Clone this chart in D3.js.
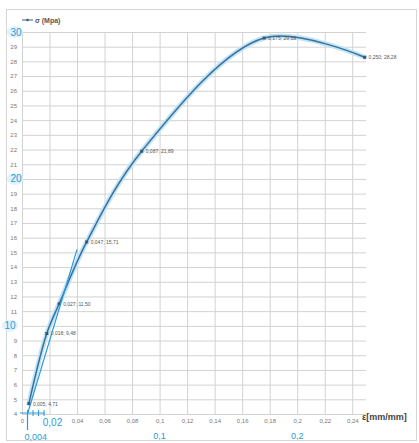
<!DOCTYPE html>
<html>
<head>
<meta charset="utf-8">
<script src="https://cdn.jsdelivr.net/npm/d3@7"></script>
<style>
  body { margin: 0; background: #fff; }
  svg { font-family: "Liberation Sans", Arial, sans-serif; }
</style>
</head>
<body>
<div id="chart"></div>
<script>
// Data
const strain = [0.005, 0.018, 0.027, 0.047, 0.087, 0.176, 0.249];
const stress = [4.71, 9.48, 11.50, 15.71, 21.89, 29.59, 28.28];
const pointLabels = ["0,005; 4,71", "0,018; 9,48", "0,027; 11,50", "0,047; 15,71",
                     "0,087; 21,89", "0,175; 29,59", "0,250; 28,28"];

const xTicks = [0, 0.02, 0.04, 0.06, 0.08, 0.1, 0.12, 0.14, 0.16, 0.18, 0.2, 0.22, 0.24];
const yTicks = d3.range(4, 31);

// hand-written blue notes
const noteY = [10, 20, 30];
const noteX = [0.02, 0.1, 0.2];
const tangentX = [0.004, 0.040];
const tangentY = [4.0, 15.2];
const smallTicks = [0.004, 0.008, 0.012, 0.016];

const W = 419, H = 443;
const svg = d3.select("#chart").append("svg")
    .attr("width", W)
    .attr("height", H);

svg.append("rect").attr("width", W).attr("height", H).attr("fill", "#fff");
svg.append("rect")
    .attr("x", 6.5).attr("y", 9.5)
    .attr("width", 410).attr("height", 431)
    .attr("fill", "none").attr("stroke", "#d6d6d6");

const x = d3.scaleLinear().domain([0, 0.25]).range([22, 366]);
const y = d3.scaleLinear().domain([4, 30]).range([414, 32]);

const fmt = d => String(d).replace(".", ",");

// gridlines + tick labels
const yAxis = svg.append("g")
    .attr("transform", `translate(${x(0)},0)`)
    .call(d3.axisLeft(y).tickValues(yTicks)
        .tickSize(-(x(0.25) - x(0))).tickPadding(5)
        .tickFormat(d => noteY.includes(d) ? "" : d));
yAxis.select(".domain").remove();
yAxis.selectAll("line").attr("stroke", "#d2d2d2");
yAxis.selectAll("text").attr("fill", "#777").style("font-size", "6px");

const xAxis = svg.append("g")
    .attr("transform", `translate(0,${y(4)})`)
    .call(d3.axisBottom(x).tickValues(xTicks)
        .tickSize(-(y(4) - y(30))).tickPadding(5)
        .tickFormat(d => d === 0.02 ? "" : fmt(d)));
xAxis.select(".domain").remove();
xAxis.selectAll("line").attr("stroke", "#d2d2d2");
xAxis.selectAll("text").attr("fill", "#777").style("font-size", "6px");

// legend
svg.append("line")
    .attr("x1", 22).attr("x2", 33).attr("y1", 20).attr("y2", 20)
    .attr("stroke", "#3a5f80").attr("stroke-width", 1);
svg.append("circle").attr("cx", 27.5).attr("cy", 20).attr("r", 1.3).attr("fill", "#3a5f80");
svg.append("text")
    .attr("x", 35).attr("y", 22.5)
    .attr("fill", "#555").style("font-size", "7px").style("font-weight", "bold")
    .text("σ (Mpa)");

// axis title
svg.append("text")
    .attr("x", 362).attr("y", 420)
    .attr("fill", "#444").style("font-size", "9px").style("font-weight", "bold")
    .text("ε[mm/mm]");

// the curve
const pts = strain.map((s, i) => [s, stress[i]]);
const line = d3.line()
    .x(d => x(d[0])).y(d => y(d[1]))
    .curve(d3.curveCatmullRom.alpha(0.5));

svg.append("path").attr("d", line(pts))
    .attr("fill", "none").attr("stroke", "#bfe4f6").attr("stroke-width", 5)
    .attr("stroke-linecap", "round");
svg.append("path").attr("d", line(pts))
    .attr("fill", "none").attr("stroke", "#3b6f9b").attr("stroke-width", 1.5);

svg.selectAll("rect.marker").data(pts).join("rect")
    .attr("class", "marker")
    .attr("x", d => x(d[0]) - 1.5).attr("y", d => y(d[1]) - 1.5)
    .attr("width", 3).attr("height", 3)
    .attr("fill", "#3b5670");

svg.selectAll("text.plabel").data(pts).join("text")
    .attr("class", "plabel")
    .attr("x", d => x(d[0]) + 4).attr("y", d => y(d[1]) + 2)
    .attr("fill", "#555").style("font-size", "5px")
    .text((d, i) => pointLabels[i]);

// blue notes
const blue = "#2b9bd6";
svg.append("line")
    .attr("x1", x(tangentX[0])).attr("y1", y(tangentY[0]))
    .attr("x2", x(tangentX[1])).attr("y2", y(tangentY[1]))
    .attr("stroke", blue).attr("stroke-width", 1.2);

svg.append("line")
    .attr("x1", x(0) - 2).attr("x2", x(0.016) + 1)
    .attr("y1", y(4) - 1).attr("y2", y(4) - 1)
    .attr("stroke", blue).attr("stroke-width", 1);
svg.selectAll("line.stick").data(smallTicks).join("line")
    .attr("class", "stick")
    .attr("x1", d => x(d)).attr("x2", d => x(d))
    .attr("y1", y(4) - 4).attr("y2", y(4) + 2)
    .attr("stroke", blue).attr("stroke-width", 1);
svg.append("line")
    .attr("x1", x(0.004)).attr("x2", x(0.004))
    .attr("y1", y(4) - 2).attr("y2", y(4) + 16)
    .attr("stroke", blue).attr("stroke-width", 1.2);
svg.append("text")
    .attr("x", x(0.004) - 3).attr("y", 440)
    .attr("fill", blue).style("font-size", "9px")
    .text("0,004");

svg.selectAll("ellipse.glow").data(noteY).join("ellipse")
    .attr("class", "glow")
    .attr("cx", d => d === 10 ? 10 : 15).attr("cy", d => y(d))
    .attr("rx", 8).attr("ry", 6)
    .attr("fill", "#e2f2fb");
svg.selectAll("text.ny").data(noteY).join("text")
    .attr("class", "ny")
    .attr("x", d => d === 10 ? 10 : 16).attr("y", d => y(d) + 3.5)
    .attr("text-anchor", "middle")
    .attr("fill", blue).style("font-size", "10px")
    .text(d => d);

svg.selectAll("text.nx").data(noteX).join("text")
    .attr("class", "nx")
    .attr("x", d => d === 0.02 ? x(d) + 3 : x(d))
    .attr("y", d => d === 0.02 ? 426 : 439)
    .attr("text-anchor", "middle")
    .attr("fill", blue).style("font-size", d => d === 0.02 ? "10px" : "9px")
    .text(d => fmt(d));
</script>
</body>
</html>
